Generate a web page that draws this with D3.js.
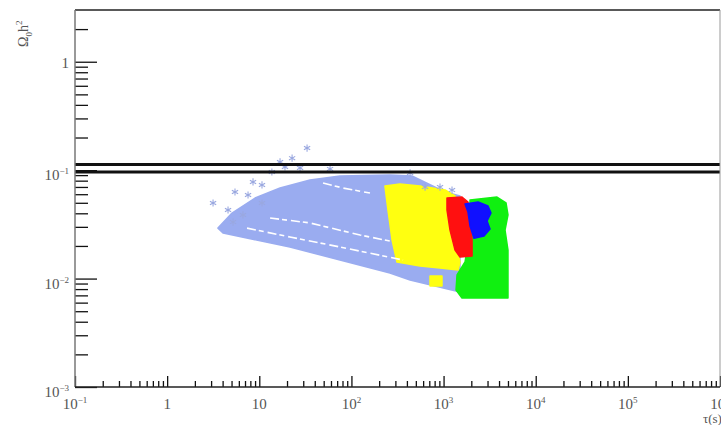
<!DOCTYPE html>
<html>
<head>
<meta charset="utf-8">
<script src="https://cdn.jsdelivr.net/npm/d3@7"></script>
<style>
  body { margin: 0; background: #fff; }
  svg { display: block; }
</style>
</head>
<body>
<div id="chart"></div>
<script>
// regions covered by the scan points, as [tau (s), Omega h^2] outlines
var lightBlueRegion = [[3.56, 0.0292], [5.06, 0.0402], [9.0, 0.0553], [16.8, 0.0684], [35.5, 0.0811],
    [75.2, 0.0883], [262, 0.0902], [454, 0.0883], [1038, 0.0629], [1507, 0.0578],
    [1507, 0.00752], [433, 0.0097], [262, 0.01125], [21.5, 0.01955], [4.04, 0.0263]];
var yellowRegion = [[231, 0.0714], [336, 0.0744], [555, 0.0714], [1038, 0.0656], [1332, 0.0578],
    [1400, 0.0386], [1332, 0.0227], [1507, 0.01422], [1435, 0.0120], [915, 0.01253],
    [555, 0.01306], [312, 0.01422], [276, 0.0227], [249, 0.0429]];
var yellowPatch = [[713, 0.01057], [961, 0.01057], [961, 0.00855], [713, 0.00855]];
var greenRegion = [[1936, 0.0530], [3800, 0.0565], [4760, 0.0498], [5000, 0.0386], [4645, 0.0280],
    [5000, 0.01834], [5000, 0.00662], [1585, 0.00662], [1365, 0.00785], [1400, 0.0108],
    [1710, 0.01422], [1936, 0.0280]];
var redRegion = [[1089, 0.0553], [1585, 0.0565], [1841, 0.0508], [1936, 0.0386], [2037, 0.0227],
    [2037, 0.01615], [1507, 0.0158], [1332, 0.01834], [1175, 0.0280], [1089, 0.0429]];
var blueRegion = [[1710, 0.0487], [2366, 0.0508], [3036, 0.0467], [3270, 0.0403], [2965, 0.0340],
    [3192, 0.0286], [2748, 0.0247], [2138, 0.0236], [1936, 0.0306], [1841, 0.0411]];

// empty streaks running through the light blue band
var streaks = [
    [[13.1, 0.0362], [35.5, 0.0326], [124, 0.0252], [262, 0.0222]],
    [[7.36, 0.0292], [21.5, 0.0242], [75.2, 0.01955], [363, 0.01483]],
    [[49.2, 0.0762], [81.1, 0.0684], [159, 0.0615]]
];

// isolated points outside the dense band
var looseStars = [[3.15, 0.0498], [5.45, 0.0629], [8.55, 0.0778], [13.7, 0.0962], [16.8, 0.119],
    [22.7, 0.129], [33.0, 0.160], [19.0, 0.107], [6.65, 0.0386], [10.7, 0.0498], [5.19, 0.0332],
    [27.7, 0.105], [58.6, 0.1026], [10.7, 0.0730], [7.55, 0.059], [4.58, 0.0429],
    [433, 0.0942], [630, 0.0698], [915, 0.0698], [1235, 0.0655]];

// allowed relic density band
var omegaBounds = [0.113, 0.096];

var xMajor = [0.1, 1, 10, 100, 1e3, 1e4, 1e5, 1e6];
var xLabels = [["10", "-1"], ["1", ""], ["10", ""], ["10", "2"], ["10", "3"], ["10", "4"], ["10", "5"], ["10", "6"]];
var yMajor = [1e-3, 1e-2, 1e-1, 1];
var yLabels = [["10", "-3"], ["10", "-2"], ["10", "-1"], ["1", ""]];

(function() {
var width = 721, height = 425;
var mLeft = 75, mRight = 720, mTop = 10, mBottom = 387;

var svg = d3.select("#chart").append("svg")
    .attr("width", width)
    .attr("height", height);

var x = d3.scaleLog().domain([0.1, 1e6]).range([mLeft, mRight]);
var y = d3.scaleLog().domain([1e-3, 3]).range([mBottom, mTop]);

var line = d3.line().x(function(d) { return x(d[0]); }).y(function(d) { return y(d[1]); });
var poly = d3.line().x(function(d) { return x(d[0]); }).y(function(d) { return y(d[1]); }).curve(d3.curveLinearClosed);

var regions = [
    [lightBlueRegion, "#9aacf0"],
    [yellowRegion, "#ffff10"],
    [yellowPatch, "#ffff10"],
    [greenRegion, "#10f010"],
    [redRegion, "#ff1010"],
    [blueRegion, "#1010ff"]
];
regions.forEach(function(r) {
    svg.append("path")
        .attr("d", poly(r[0]))
        .style("fill", r[1])
        .style("stroke", r[1])
        .style("stroke-width", 1.5)
        .style("stroke-linejoin", "round");
});

streaks.forEach(function(s) {
    svg.append("path")
        .attr("d", line(s))
        .style("fill", "none")
        .style("stroke", "#fff")
        .style("stroke-width", 1.6)
        .style("stroke-dasharray", "9,3,5,4");
});

var star = d3.symbol().type(d3.symbolAsterisk).size(36);
svg.selectAll(".star")
    .data(looseStars)
    .enter().append("path")
    .attr("class", "star")
    .attr("transform", function(d) { return "translate(" + x(d[0]) + "," + y(d[1]) + ")"; })
    .attr("d", star)
    .style("fill", "none")
    .style("stroke", "#9aa8e0")
    .style("stroke-width", 1.1);

omegaBounds.forEach(function(v) {
    svg.append("line")
        .attr("x1", mLeft).attr("x2", mRight)
        .attr("y1", y(v)).attr("y2", y(v))
        .style("stroke", "#111")
        .style("stroke-width", 3);
});

// minor ticks
var xMinor = [], yMinor = [];
for (var e = -1; e < 6; e++) {
    for (var m = 2; m <= 9; m++) xMinor.push(m * Math.pow(10, e));
}
for (var e2 = -3; e2 <= 0; e2++) {
    for (var m2 = 2; m2 <= 9; m2++) {
        var v = m2 * Math.pow(10, e2);
        if (v < 2.9) yMinor.push(v);
    }
}

function styleAxis(g) {
    g.select(".domain").remove();
    g.selectAll("line").style("stroke", "#111").style("stroke-width", 1.3);
}

svg.append("g").attr("transform", "translate(0," + mBottom + ")")
    .call(d3.axisTop(x).tickValues(xMinor).tickSize(6).tickFormat(""))
    .call(styleAxis);
svg.append("g").attr("transform", "translate(0," + mBottom + ")")
    .call(d3.axisTop(x).tickValues(xMajor).tickSize(11).tickFormat(""))
    .call(styleAxis);
svg.append("g").attr("transform", "translate(" + mLeft + ",0)")
    .call(d3.axisRight(y).tickValues(yMinor).tickSize(13).tickFormat(""))
    .call(styleAxis);
svg.append("g").attr("transform", "translate(" + mLeft + ",0)")
    .call(d3.axisRight(y).tickValues(yMajor).tickSize(22).tickFormat(""))
    .call(styleAxis);

// frame
svg.append("line").attr("x1", mLeft).attr("x2", mRight).attr("y1", mTop).attr("y2", mTop)
    .style("stroke", "#222").style("stroke-width", 1.5);
svg.append("line").attr("x1", mRight).attr("x2", mRight).attr("y1", mTop).attr("y2", mBottom)
    .style("stroke", "#999").style("stroke-width", 1);
svg.append("line").attr("x1", mLeft).attr("x2", mLeft).attr("y1", mTop).attr("y2", mBottom)
    .style("stroke", "#777").style("stroke-width", 1.5);
svg.append("line").attr("x1", mLeft).attr("x2", mRight).attr("y1", mBottom).attr("y2", mBottom)
    .style("stroke", "#222").style("stroke-width", 1.5);

function powLabel(sel, base, exp) {
    sel.append("tspan").text(base);
    if (exp) {
        sel.append("tspan").attr("dy", -6).style("font-size", "9px").text(exp.replace("-", "\u2212"));
    }
}

var font = "'Liberation Serif', 'DejaVu Serif', serif";

xMajor.forEach(function(v, i) {
    var t = svg.append("text")
        .attr("x", x(v))
        .attr("y", 409)
        .attr("text-anchor", "middle")
        .style("font-family", font)
        .style("font-size", "15px")
        .style("fill", "#555");
    powLabel(t, xLabels[i][0], xLabels[i][1]);
});

yMajor.forEach(function(v, i) {
    var t = svg.append("text")
        .attr("x", 69)
        .attr("y", y(v) + (v === 1 ? 6 : 10))
        .attr("text-anchor", "end")
        .style("font-family", font)
        .style("font-size", "15px")
        .style("fill", "#555");
    powLabel(t, yLabels[i][0], yLabels[i][1]);
});

var ylab = svg.append("text")
    .attr("transform", "translate(28,47) rotate(-90)")
    .style("font-family", font)
    .style("font-size", "14px")
    .style("fill", "#555");
ylab.append("tspan").text("\u03a9");
ylab.append("tspan").attr("dy", 4).style("font-size", "9px").text("0");
ylab.append("tspan").attr("dy", -4).text("h");
ylab.append("tspan").attr("dy", -6).style("font-size", "9px").text("2");

svg.append("text")
    .attr("x", 703)
    .attr("y", 423)
    .style("font-family", font)
    .style("font-size", "13px")
    .style("fill", "#555")
    .text("\u03c4(s)");
})();
</script>
</body>
</html>
